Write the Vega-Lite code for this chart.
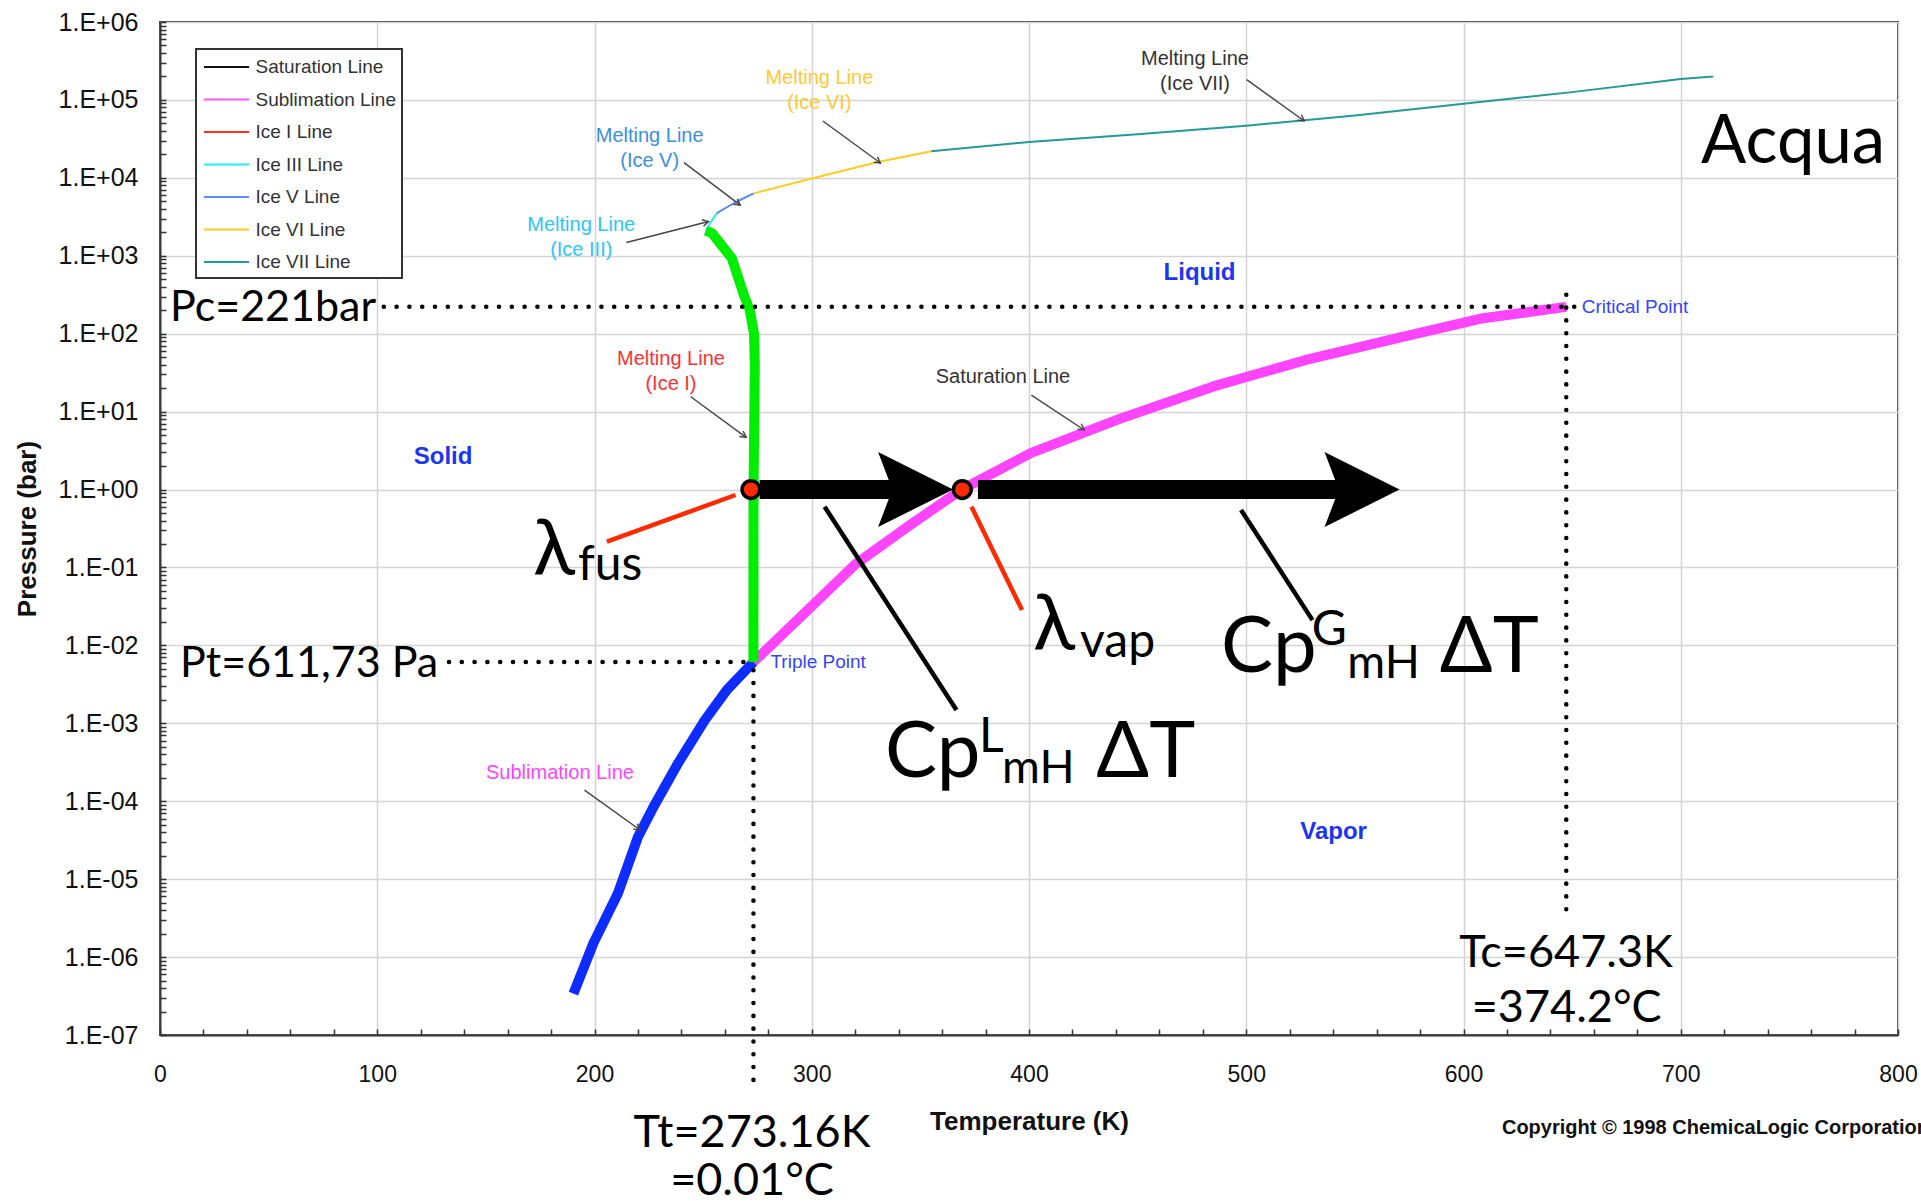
{
"$schema":"https://vega.github.io/schema/vega-lite/v6.json",
"width":1738,"height":1013,
"autosize":{"type":"none"},
"padding":{"left":160,"top":22,"right":23,"bottom":169},
"background":"white",
"config":{"view":{"stroke":"#3a3a3a","strokeWidth":2},"font":"Liberation Sans","legend":{"strokeWidth":2}},
"resolve":{"axis":{"x":"independent","y":"independent"}},
"datasets":{
"curves":[
{"series":"Saturation Line","T":273.16,"P":0.00612},{"series":"Saturation Line","T":295,"P":0.0234},{"series":"Saturation Line","T":320,"P":0.1096},{"series":"Saturation Line","T":345,"P":0.347},{"series":"Saturation Line","T":369,"P":1.0},{"series":"Saturation Line","T":401,"P":2.95},{"series":"Saturation Line","T":442,"P":8.13},{"series":"Saturation Line","T":484.5,"P":20.9},{"series":"Saturation Line","T":527,"P":45.7},{"series":"Saturation Line","T":569,"P":87.1},{"series":"Saturation Line","T":609,"P":158},{"series":"Saturation Line","T":647.3,"P":221},
{"series":"Sublimation Line","T":190.3,"P":3.39e-7},{"series":"Sublimation Line","T":199.5,"P":1.51e-6},{"series":"Sublimation Line","T":210.8,"P":6.6e-6},{"series":"Sublimation Line","T":220.0,"P":3.47e-5},{"series":"Sublimation Line","T":227.2,"P":8.5e-5},{"series":"Sublimation Line","T":238.5,"P":3.09e-4},{"series":"Sublimation Line","T":250.8,"P":1.1e-3},{"series":"Sublimation Line","T":261.0,"P":2.69e-3},{"series":"Sublimation Line","T":273.16,"P":6.1e-3},
{"series":"Ice I Line","T":273.16,"P":0.0061},{"series":"Ice I Line","T":273.2,"P":1.0},{"series":"Ice I Line","T":273.8,"P":40},{"series":"Ice I Line","T":273.4,"P":100},{"series":"Ice I Line","T":271.5,"P":200},{"series":"Ice I Line","T":269.0,"P":300},{"series":"Ice I Line","T":263.2,"P":930},{"series":"Ice I Line","T":254.1,"P":1950},{"series":"Ice I Line","T":251.2,"P":2099},
{"series":"Ice III Line","T":251.2,"P":2099},{"series":"Ice III Line","T":253.5,"P":2700},{"series":"Ice III Line","T":256.2,"P":3501},
{"series":"Ice V Line","T":256.2,"P":3501},{"series":"Ice V Line","T":259,"P":3900},{"series":"Ice V Line","T":262.5,"P":4450},{"series":"Ice V Line","T":267,"P":5200},{"series":"Ice V Line","T":273.3,"P":6324},
{"series":"Ice VI Line","T":273.3,"P":6324},{"series":"Ice VI Line","T":300,"P":9800},{"series":"Ice VI Line","T":330.5,"P":16000},{"series":"Ice VI Line","T":355,"P":22000},
{"series":"Ice VII Line","T":355,"P":22000},{"series":"Ice VII Line","T":400,"P":28840},{"series":"Ice VII Line","T":450,"P":36300},{"series":"Ice VII Line","T":500,"P":46770},{"series":"Ice VII Line","T":550,"P":63100},{"series":"Ice VII Line","T":600,"P":89125},{"series":"Ice VII Line","T":650,"P":125900},{"series":"Ice VII Line","T":700,"P":186200},{"series":"Ice VII Line","T":715,"P":199500}
],
"dotted":[
{"T1":103,"T2":652,"P1":221,"P2":221},
{"T1":133,"T2":273.16,"P1":0.0061173,"P2":0.0061173},
{"T1":647.3,"T2":647.3,"P1":316,"P2":3.16e-6},
{"T1":273.16,"T2":273.16,"P1":0.0048,"P2":1.95e-8}
],
"pointers":[
{"name":"ice3","T1":214.7,"P1":1479,"T2":252.5,"P2":2754},
{"name":"ice5","T1":241.2,"P1":15670,"T2":267.1,"P2":4467},
{"name":"ice6","T1":305.1,"P1":53700,"T2":331.6,"P2":15490},
{"name":"ice7","T1":500.2,"P1":182000,"T2":526.7,"P2":53700},
{"name":"ice1","T1":244.3,"P1":15.5,"T2":269.8,"P2":4.68},
{"name":"sat","T1":401.1,"P1":16.3,"T2":425.4,"P2":5.81},
{"name":"sub","T1":195.4,"P1":1.39e-4,"T2":221.0,"P2":4.27e-5}
],
"shafts":[{"T1":276,"T2":341,"P":1},{"T1":376.5,"T2":545,"P":1}],
"heads":[{"T":347.8,"P":1},{"T":553.3,"P":1}],
"redLeaders":[{"T1":205.7,"P1":0.214,"T2":264.9,"P2":0.851},{"T1":373.5,"P1":0.603,"T2":396.8,"P2":0.0284}],
"blackLeaders":[{"T1":305.9,"P1":0.603,"T2":366.6,"P2":0.00148},{"T1":497.6,"P1":0.546,"T2":530.5,"P2":0.0211}],
"states":[{"state":"fusion","T":272,"P":1},{"state":"vaporization","T":369.3,"P":1}],
"phases":[{"text":"Liquid","T":478.5,"P":596},{"text":"Solid","T":130.3,"P":2.64},{"text":"Vapor","T":540.2,"P":4.06e-5}],
"notes2":[
{"id":"ice3","text":"Melting Line\n(Ice III)","T":193.9,"P":1714},
{"id":"ice5","text":"Melting Line\n(Ice V)","T":225.4,"P":23930},
{"id":"ice6","text":"Melting Line\n(Ice VI)","T":303.5,"P":130900},
{"id":"ice7","text":"Melting Line\n(Ice VII)","T":476.4,"P":230100},
{"id":"ice1","text":"Melting Line\n(Ice I)","T":235.2,"P":32.5}
],
"notes1":[
{"id":"sat","text":"Saturation Line","T":388.0,"P":27.5},
{"id":"sub","text":"Sublimation Line","T":184.1,"P":2.32e-4}
],
"points":[{"text":"Triple Point","T":281,"P":0.0062},{"text":"Critical Point","T":654.4,"P":221}],
"pLabels":[{"text":"Pc=221bar","T":4.6,"P":145.6},{"text":"Pt=611,73 Pa","T":9.2,"P":0.00389}],
"tLabels":[{"text":"Tt=273.16K","T":272.5,"P":3.7e-9},{"text":"=0.01°C","T":272.5,"P":8.83e-10},{"text":"Tc=647.3K","T":647.2,"P":7.52e-7},{"text":"=374.2°C","T":647.5,"P":1.48e-7}],
"heading":[{"text":"Acqua","T":709.3,"P":15380}],
"symbols":[{"text":"λ","T":171.7,"P":0.080},{"text":"λ","T":401.8,"P":0.0087},{"text":"Cp","T":333.7,"P":2.05e-4},{"text":"ΔT","T":431.0,"P":2.05e-4},{"text":"Cp","T":488.4,"P":4.55e-3},{"text":"ΔT","T":589.1,"P":4.55e-3}],
"scripts":[{"text":"fus","T":192.4,"P":0.069},{"text":"vap","T":423.5,"P":7.14e-3},{"text":"L","T":377.0,"P":4.28e-4},{"text":"G","T":530.1,"P":0.0101}],
"subs":[{"text":"mH","T":387.6,"P":1.71e-4},{"text":"mH","T":546.5,"P":3.8e-3}],
"credit":[{"text":"Copyright © 1998 ChemicaLogic Corporation","T":617.7,"P":6.4e-9}]
},
"layer":[
{"data":{"name":"curves"},
 "mark":{"type":"line","strokeWidth":2},
 "encoding":{
  "x":{"field":"T","type":"quantitative","scale":{"domain":[0,800],"nice":false,"zero":false},
   "axis":{"orient":"bottom","values":[0,100,200,300,400,500,600,700,800],"format":"d","labelFontSize":23,"labelColor":"#111","labelPadding":28,"labelFlush":false,"ticks":false,"grid":true,"gridColor":"#d4d4d4","gridWidth":1.5,"domain":true,"domainColor":"#3a3a3a","domainWidth":2,"title":"Temperature (K)","titleFontSize":26,"titleFontWeight":"bold","titleColor":"#111","titlePadding":22}},
  "y":{"field":"P","type":"quantitative","scale":{"type":"log","domain":[1e-7,1e6],"nice":false},
   "axis":{"orient":"left","values":[1e-7,1e-6,1e-5,1e-4,0.001,0.01,0.1,1,10,100,1000,10000,100000,1000000],"labelExpr":"'1.E' + (datum.value >= 1 ? '+' : '-') + (abs(round(log(datum.value)/LN10)) < 10 ? '0' : '') + abs(round(log(datum.value)/LN10))","labelFontSize":25,"labelColor":"#111","labelPadding":22,"labelFlush":false,"ticks":false,"grid":true,"gridColor":"#d4d4d4","gridWidth":1.5,"domain":true,"domainColor":"#3a3a3a","domainWidth":2,"title":"Pressure (bar)","titleFontSize":26,"titleFontWeight":"bold","titleColor":"#111","titlePadding":18}},
  "color":{"field":"series","type":"nominal",
   "scale":{"domain":["Saturation Line","Sublimation Line","Ice I Line","Ice III Line","Ice V Line","Ice VI Line","Ice VII Line"],"range":["#111111","#ff55ff","#ff3322","#22eeff","#5a8cff","#ffcc22","#229a9a"]},
   "legend":{"title":null,"orient":"none","legendX":36,"legendY":27,"direction":"vertical","symbolType":"M-2.05,0H2.05","symbolSize":484,"symbolStrokeWidth":2,"symbolOffset":12.5,"labelOffset":17,"labelFontSize":19,"labelColor":"#333","labelLimit":220,"padding":6,"rowPadding":10.5,"strokeColor":"#333","fillColor":"white"}},
  "order":{"field":"P","type":"quantitative"}
 }},
{"data":{"name":"curves"},
 "transform":[{"filter":{"field":"series","oneOf":["Saturation Line","Sublimation Line","Ice I Line"]}}],
 "mark":{"type":"line","strokeWidth":10,"strokeCap":"butt","strokeJoin":"round"},
 "encoding":{
  "x":{"field":"T","type":"quantitative","axis":{"orient":"bottom","values":[0,20,40,60,80,100,120,140,160,180,200,220,240,260,280,300,320,340,360,380,400,420,440,460,480,500,520,540,560,580,600,620,640,660,680,700,720,740,760,780,800],"labels":false,"grid":false,"domain":false,"ticks":true,"tickSize":6,"tickWidth":1.5,"tickColor":"#333","offset":-6,"title":null}},
  "y":{"field":"P","type":"quantitative","axis":{"orient":"left","values":[1e-7,2e-7,3e-7,4e-7,5e-7,6e-7,7e-7,8e-7,9e-7,1e-6,2e-6,3e-6,4e-6,5e-6,6e-6,7e-6,8e-6,9e-6,1e-5,2e-5,3e-5,4e-5,5e-5,6e-5,7e-5,8e-5,9e-5,1e-4,2e-4,3e-4,4e-4,5e-4,6e-4,7e-4,8e-4,9e-4,0.001,0.002,0.003,0.004,0.005,0.006,0.007,0.008,0.009,0.01,0.02,0.03,0.04,0.05,0.06,0.07,0.08,0.09,0.1,0.2,0.3,0.4,0.5,0.6,0.7,0.8,0.9,1,2,3,4,5,6,7,8,9,10,20,30,40,50,60,70,80,90,100,200,300,400,500,600,700,800,900,1000,2000,3000,4000,5000,6000,7000,8000,9000,10000,20000,30000,40000,50000,60000,70000,80000,90000,100000,200000,300000,400000,500000,600000,700000,800000,900000,1000000],"labels":false,"grid":false,"domain":false,"ticks":true,"tickSize":6,"tickWidth":1.5,"tickColor":"#333","offset":-6,"title":null}},
  "stroke":{"field":"series","type":"nominal","scale":{"domain":["Saturation Line","Sublimation Line","Ice I Line"],"range":["#ff44ff","#0f2cff","#00ee00"]},"legend":null},
  "order":{"field":"P","type":"quantitative"}
 }},
{"data":{"name":"dotted"},
 "mark":{"type":"rule","color":"black","strokeWidth":4.5,"strokeCap":"round","strokeDash":[0.1,12.7]},
 "encoding":{"x":{"field":"T1","type":"quantitative","axis":null},"x2":{"field":"T2"},"y":{"field":"P1","type":"quantitative","axis":null},"y2":{"field":"P2"}}},
{"data":{"name":"pointers"},
 "mark":{"type":"rule","color":"#444","strokeWidth":1.4},
 "encoding":{"x":{"field":"T1","type":"quantitative","axis":null},"x2":{"field":"T2"},"y":{"field":"P1","type":"quantitative","axis":null},"y2":{"field":"P2"}}},
{"data":{"name":"pointers"},
 "transform":[{"filter":"datum.name != 'ice3'"}],
 "mark":{"type":"point","shape":"M-1,-0.55L0,0L-1,0.55","size":144,"filled":false,"stroke":"#444","strokeWidth":1.4,"angle":36,"opacity":1},
 "encoding":{"x":{"field":"T2","type":"quantitative","axis":null},"y":{"field":"P2","type":"quantitative","axis":null}}},
{"data":{"name":"pointers"},
 "transform":[{"filter":"datum.name == 'ice3'"}],
 "mark":{"type":"point","shape":"M-1,-0.55L0,0L-1,0.55","size":144,"filled":false,"stroke":"#444","strokeWidth":1.4,"angle":-14,"opacity":1},
 "encoding":{"x":{"field":"T2","type":"quantitative","axis":null},"y":{"field":"P2","type":"quantitative","axis":null}}},
{"data":{"name":"shafts"},
 "mark":{"type":"rule","color":"black","strokeWidth":19,"strokeCap":"butt"},
 "encoding":{"x":{"field":"T1","type":"quantitative","axis":null},"x2":{"field":"T2"},"y":{"field":"P","type":"quantitative","axis":null}}},
{"data":{"name":"heads"},
 "mark":{"type":"point","shape":"M-1,-1L1,0L-1,1L-0.62,0Z","size":5625,"filled":true,"fill":"black","strokeWidth":0,"opacity":1},
 "encoding":{"x":{"field":"T","type":"quantitative","axis":null},"y":{"field":"P","type":"quantitative","axis":null}}},
{"data":{"name":"redLeaders"},
 "mark":{"type":"rule","color":"#ff2a00","strokeWidth":4.5},
 "encoding":{"x":{"field":"T1","type":"quantitative","axis":null},"x2":{"field":"T2"},"y":{"field":"P1","type":"quantitative","axis":null},"y2":{"field":"P2"}}},
{"data":{"name":"blackLeaders"},
 "mark":{"type":"rule","color":"black","strokeWidth":4.5},
 "encoding":{"x":{"field":"T1","type":"quantitative","axis":null},"x2":{"field":"T2"},"y":{"field":"P1","type":"quantitative","axis":null},"y2":{"field":"P2"}}},
{"data":{"name":"states"},
 "mark":{"type":"point","shape":"circle","size":314,"filled":true,"fill":"#ff2a00","stroke":"black","strokeWidth":3.5,"opacity":1},
 "encoding":{"x":{"field":"T","type":"quantitative","axis":null},"y":{"field":"P","type":"quantitative","axis":null}}},
{"data":{"name":"phases"},
 "mark":{"type":"text","font":"Liberation Sans","fontSize":24,"fontWeight":"bold","color":"#1c35f5","align":"center","baseline":"middle"},
 "encoding":{"x":{"field":"T","type":"quantitative","axis":null},"y":{"field":"P","type":"quantitative","axis":null},"text":{"field":"text"}}},
{"data":{"name":"notes2"},
 "mark":{"type":"text","font":"Liberation Sans","fontSize":20,"align":"center","baseline":"middle","lineBreak":"\n","lineHeight":25,"dy":-12.5},
 "encoding":{"x":{"field":"T","type":"quantitative","axis":null},"y":{"field":"P","type":"quantitative","axis":null},"text":{"field":"text"},
  "fill":{"field":"id","type":"nominal","scale":{"domain":["ice3","ice5","ice6","ice7","ice1","sat","sub"],"range":["#2cc6f8","#3b8fe0","#ffc933","#333333","#ff3030","#333333","#ff44ff"]},"legend":null}}},
{"data":{"name":"notes1"},
 "mark":{"type":"text","font":"Liberation Sans","fontSize":20,"align":"center","baseline":"middle"},
 "encoding":{"x":{"field":"T","type":"quantitative","axis":null},"y":{"field":"P","type":"quantitative","axis":null},"text":{"field":"text"},
  "fill":{"field":"id","type":"nominal","legend":null}}},
{"data":{"name":"points"},
 "mark":{"type":"text","font":"Liberation Sans","fontSize":19,"color":"#3344ff","align":"left","baseline":"middle"},
 "encoding":{"x":{"field":"T","type":"quantitative","axis":null},"y":{"field":"P","type":"quantitative","axis":null},"text":{"field":"text"}}},
{"data":{"name":"pLabels"},
 "mark":{"type":"text","font":"Lato, Noto Sans","fontSize":43,"color":"black","align":"left","baseline":"alphabetic"},
 "encoding":{"x":{"field":"T","type":"quantitative","axis":null},"y":{"field":"P","type":"quantitative","axis":null},"text":{"field":"text"}}},
{"data":{"name":"tLabels"},
 "mark":{"type":"text","font":"Lato, Noto Sans","fontSize":45,"color":"black","align":"center","baseline":"alphabetic"},
 "encoding":{"x":{"field":"T","type":"quantitative","axis":null},"y":{"field":"P","type":"quantitative","axis":null},"text":{"field":"text"}}},
{"data":{"name":"heading"},
 "mark":{"type":"text","font":"Lato, Noto Sans","fontSize":67,"color":"black","align":"left","baseline":"alphabetic"},
 "encoding":{"x":{"field":"T","type":"quantitative","axis":null},"y":{"field":"P","type":"quantitative","axis":null},"text":{"field":"text"}}},
{"data":{"name":"symbols"},
 "mark":{"type":"text","font":"Lato, Noto Sans","fontSize":78,"color":"black","align":"left","baseline":"alphabetic"},
 "encoding":{"x":{"field":"T","type":"quantitative","axis":null},"y":{"field":"P","type":"quantitative","axis":null},"text":{"field":"text"}}},
{"data":{"name":"scripts"},
 "mark":{"type":"text","font":"Lato, Noto Sans","fontSize":48,"color":"black","align":"left","baseline":"alphabetic"},
 "encoding":{"x":{"field":"T","type":"quantitative","axis":null},"y":{"field":"P","type":"quantitative","axis":null},"text":{"field":"text"}}},
{"data":{"name":"subs"},
 "mark":{"type":"text","font":"Lato, Noto Sans","fontSize":46,"color":"black","align":"left","baseline":"alphabetic"},
 "encoding":{"x":{"field":"T","type":"quantitative","axis":null},"y":{"field":"P","type":"quantitative","axis":null},"text":{"field":"text"}}},
{"data":{"name":"credit"},
 "mark":{"type":"text","font":"Liberation Sans","fontSize":20,"fontWeight":"bold","color":"#111","align":"left","baseline":"middle"},
 "encoding":{"x":{"field":"T","type":"quantitative","axis":null},"y":{"field":"P","type":"quantitative","axis":null},"text":{"field":"text"}}}
]
}
